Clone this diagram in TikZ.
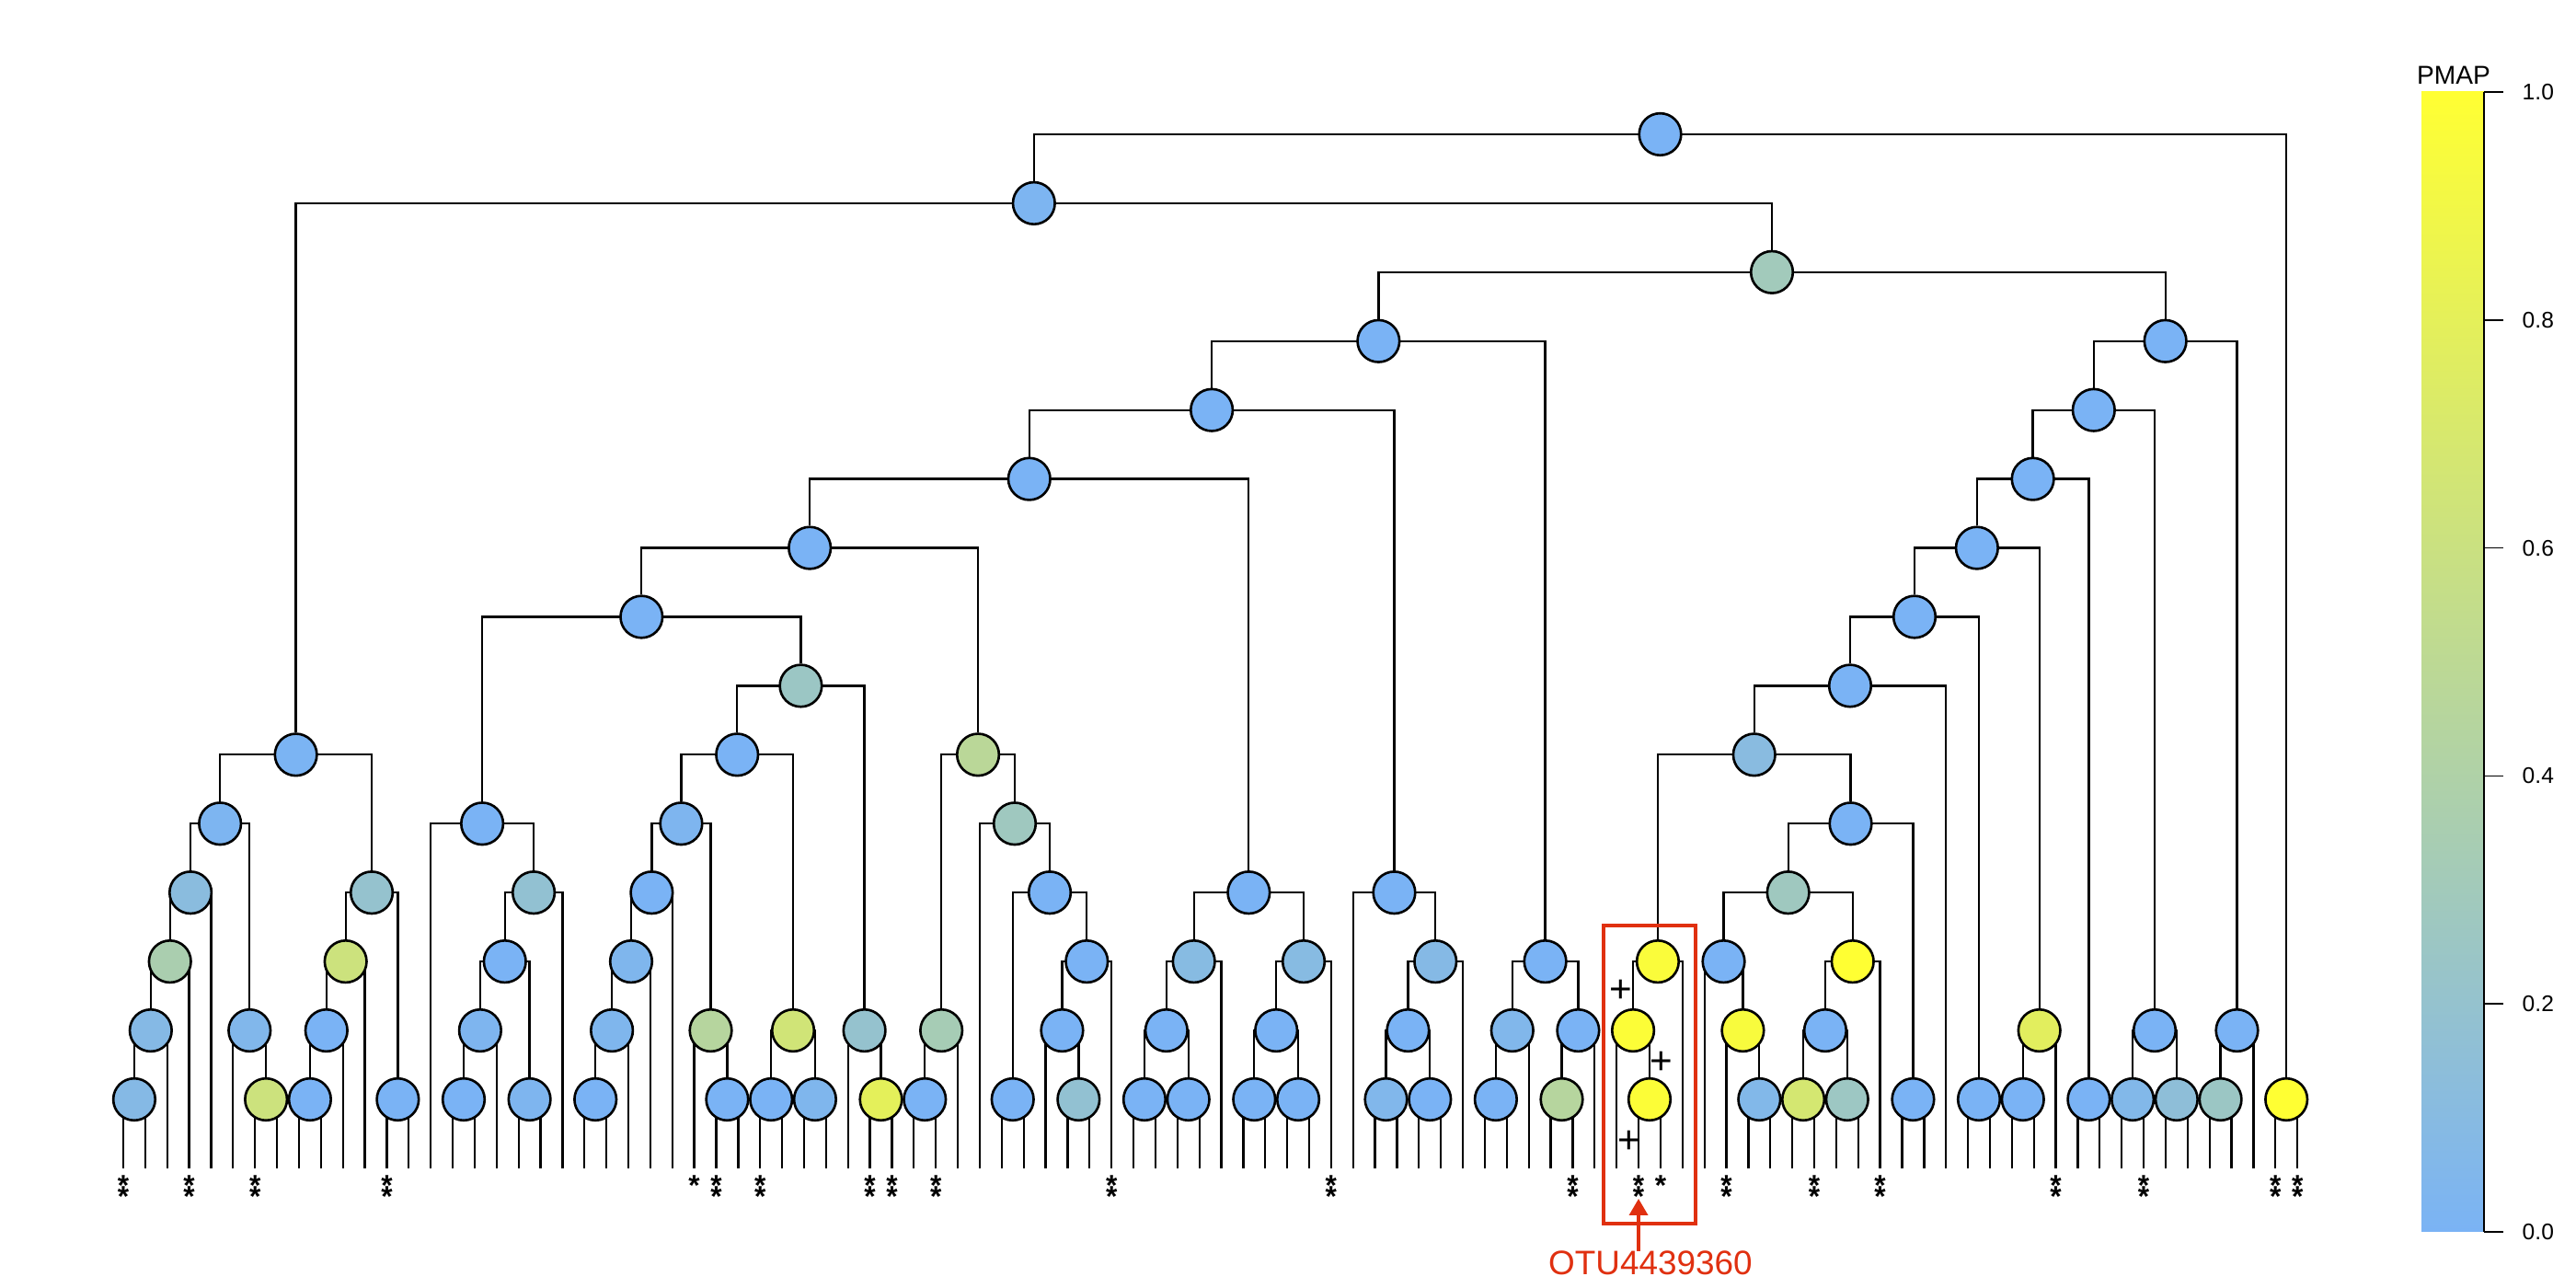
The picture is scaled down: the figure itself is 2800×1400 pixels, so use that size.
\documentclass[tikz,border=0pt]{standalone}
\usepackage{fontspec}
\setmainfont{Liberation Sans}
\usetikzlibrary{calc,arrows.meta}
\definecolor{blu}{RGB}{122,179,245}
\definecolor{yel}{RGB}{255,255,51}
\definecolor{otured}{RGB}{224,48,16}
\pgfdeclarelayer{bg}
\pgfsetlayers{bg,main}
\tikzset{
  pnode/.style={circle, draw=black, line width=0.75pt, minimum size=4.56mm, inner sep=0pt},
  branch/.style={line width=0.65pt, black},
  starmark/.style={anchor=base, inner sep=0pt, font=\fontsize{9}{11}\selectfont\bfseries},
  plusmark/.style={anchor=base, inner sep=0pt, font=\fontsize{12}{14}\selectfont},
  ticklab/.style={anchor=west, inner sep=0pt, font=\fontsize{7}{8}\selectfont},
  hlbox/.style={draw=otured, line width=1.15pt},
}
% internal node: name, child1, child2, height, PMAP(percent)
\newcommand\tn[5]{%
  \path let \p1=(#2), \p2=(#3), \p3=(0,{1195-(#4-1)*74.93}) in
    node[pnode, fill=yel!#5!blu] (#1) at ({0.5*\x1+0.5*\x2},\y3) {};
  \begin{pgfonlayer}{bg}
    \draw[branch] (#2) |- (#1.center) -| (#3);
  \end{pgfonlayer}}
\newcommand\twostar[1]{%
  \node[starmark] (sa#1) at ($(L#1)+(0,30)$) {*\llap{\raisebox{-3.41pt}{*}}};}
\newcommand\onestar[1]{%
  \node[starmark] (sa#1) at ($(L#1)+(0,30)$) {*};}
\begin{document}
\begin{tikzpicture}[x=0.1mm, y=-0.1mm]
\begin{pgfonlayer}{bg}
\fill[white] (0,0) rectangle (2800,1400);
\end{pgfonlayer}
\useasboundingbox (0,0) rectangle (2800,1400);
\foreach \i in {0,...,99} \coordinate (L\i) at ({134+23.87*\i},1270);
% left clade
\tn{A1}{L0}{L1}{1}{8}
\tn{A2}{A1}{L2}{2}{8}
\tn{A3}{A2}{L3}{3}{36}
\tn{A4}{A3}{L4}{4}{12}
\tn{B0}{L6}{L7}{1}{62}
\tn{B1}{L5}{B0}{2}{5}
\tn{A5}{A4}{B1}{5}{2}
\tn{C1}{L8}{L9}{1}{0}
\tn{C2}{C1}{L10}{2}{0}
\tn{C3}{C2}{L11}{3}{62}
\tn{C0}{L12}{L13}{1}{0}
\tn{C4}{C3}{C0}{4}{20}
\tn{R1}{A5}{C4}{6}{1}
% P
\tn{D1}{L15}{L16}{1}{0}
\tn{D2}{D1}{L17}{2}{3}
\tn{E1}{L18}{L19}{1}{3}
\tn{D3}{D2}{E1}{3}{0}
\tn{D4}{D3}{L20}{4}{18}
\tn{P}{L14}{D4}{5}{0}
% Q
\tn{F1}{L21}{L22}{1}{0}
\tn{F2}{F1}{L23}{2}{4}
\tn{F3}{F2}{L24}{3}{4}
\tn{F4}{F3}{L25}{4}{0}
\tn{G0}{L27}{L28}{1}{0}
\tn{G1}{L26}{G0}{2}{45}
\tn{F5}{F4}{G1}{5}{3}
\tn{H1}{L29}{L30}{1}{0}
\tn{H2}{L31}{L32}{1}{4}
\tn{H3}{H1}{H2}{2}{65}
\tn{F6}{F5}{H3}{6}{0}
\tn{I0}{L34}{L35}{1}{80}
\tn{I1}{L33}{I0}{2}{20}
\tn{Q}{F6}{I1}{7}{25}
\tn{N8}{P}{Q}{8}{0}
% K7
\tn{J0}{L36}{L37}{1}{0}
\tn{J1}{J0}{L38}{2}{33}
\tn{K2}{L40}{L41}{1}{0}
\tn{K4}{L43}{L44}{1}{18}
\tn{K3}{L42}{K4}{2}{0}
\tn{K5}{K3}{L45}{3}{0}
\tn{K6}{K2}{K5}{4}{0}
\tn{K1}{L39}{K6}{5}{28}
\tn{K7}{J1}{K1}{6}{48}
\tn{N7}{N8}{K7}{9}{0}
% M5
\tn{M1}{L46}{L47}{1}{0}
\tn{M2}{L48}{L49}{1}{0}
\tn{M3}{M1}{M2}{2}{0}
\tn{M4}{M3}{L50}{3}{10}
\tn{O1}{L51}{L52}{1}{0}
\tn{O2}{L53}{L54}{1}{0}
\tn{O3}{O1}{O2}{2}{0}
\tn{O4}{O3}{L55}{3}{10}
\tn{M5}{M4}{O4}{4}{0}
\tn{N6}{N7}{M5}{10}{0}
% S1
\tn{S2}{L57}{L58}{1}{5}
\tn{S3}{L59}{L60}{1}{0}
\tn{S4}{S2}{S3}{2}{0}
\tn{S5}{S4}{L61}{3}{8}
\tn{S1}{L56}{S5}{4}{0}
\tn{N5}{N6}{S1}{11}{0}
% T5
\tn{T1}{L62}{L63}{1}{0}
\tn{T2}{T1}{L64}{2}{5}
\tn{T3}{L65}{L66}{1}{45}
\tn{T4}{T3}{L67}{2}{0}
\tn{T5}{T2}{T4}{3}{0}
\tn{N3}{N5}{T5}{12}{0}
% right clade
\tn{U1}{L69}{L70}{1}{98}
\tn{U2}{L68}{U1}{2}{98}
\tn{U3}{U2}{L71}{3}{96}
\tn{V3}{L74}{L75}{1}{6}
\tn{V2}{L73}{V3}{2}{95}
\tn{V1}{L72}{V2}{3}{0}
\tn{W1}{L76}{L77}{1}{68}
\tn{W2}{L78}{L79}{1}{26}
\tn{W3}{W1}{W2}{2}{0}
\tn{W4}{W3}{L80}{3}{100}
\tn{X1}{V1}{W4}{4}{28}
\tn{X2}{L81}{L82}{1}{0}
\tn{X3}{X1}{X2}{5}{0}
\tn{X4}{U3}{X3}{6}{11}
\tn{X5}{X4}{L83}{7}{0}
\tn{Y1}{L84}{L85}{1}{0}
\tn{X6}{X5}{Y1}{8}{0}
\tn{Y2}{L86}{L87}{1}{0}
\tn{Y3}{Y2}{L88}{2}{78}
\tn{X7}{X6}{Y3}{9}{0}
\tn{Z1}{L89}{L90}{1}{0}
\tn{X8}{X7}{Z1}{10}{0}
\tn{Z2}{L91}{L92}{1}{6}
\tn{Z3}{L93}{L94}{1}{15}
\tn{Z4}{Z2}{Z3}{2}{0}
\tn{X9}{X8}{Z4}{11}{0}
\tn{Z5}{L95}{L96}{1}{25}
\tn{Z6}{Z5}{L97}{2}{0}
\tn{N4}{X9}{Z6}{12}{0}
\tn{N2}{N3}{N4}{13}{30}
\tn{N1}{R1}{N2}{14}{2}
\tn{Yf}{L98}{L99}{1}{100}
\tn{Root}{N1}{Yf}{15}{0}
% significance marks
\foreach \k in {0,3,6,12,27,29,34,35,37,45,55,66,69,73,77,80,88,92,98,99} {\twostar{\k}}
\onestar{26}
\onestar{70}
% plus marks
\node[plusmark] (p1) at (1761.7,1090) {+};
\node[plusmark] (p2) at (1805.7,1168) {+};
\node[plusmark] (p3) at (1770.7,1254) {+};
% highlight
\draw[hlbox] (1743.3,1005.7) rectangle (1843.3,1330);
\node[anchor=base, inner sep=0pt, text=otured, font=\fontsize{10.5}{12}\selectfont] (otu) at (1794,1386) {OTU4439360};
\coordinate (tip) at (L69 |- 0,1303);
\draw[otured, line width=1pt, -{Triangle[length=1.8mm, width=2mm]}] (tip |- otu.north) -- (tip);
% colour bar
\shade[top color=yel, bottom color=blu] (2632,100) rectangle (2700,1339);
\draw[line width=0.6pt] (2700,100) -- (2700,1339);
\foreach \v/\t in {0/0.0,0.2/0.2,0.4/0.4,0.6/0.6,0.8/0.8,1/1.0} {
  \draw[line width=0.5pt] (2700,{1339-\v*1239}) -- (2721,{1339-\v*1239});
  \node[ticklab] at (2741,{1339-\v*1239}) {\t};
}
\node[anchor=base, inner sep=0pt, font=\fontsize{8}{9}\selectfont] (pmap) at (2667,92) {PMAP};
\end{tikzpicture}
\end{document}
